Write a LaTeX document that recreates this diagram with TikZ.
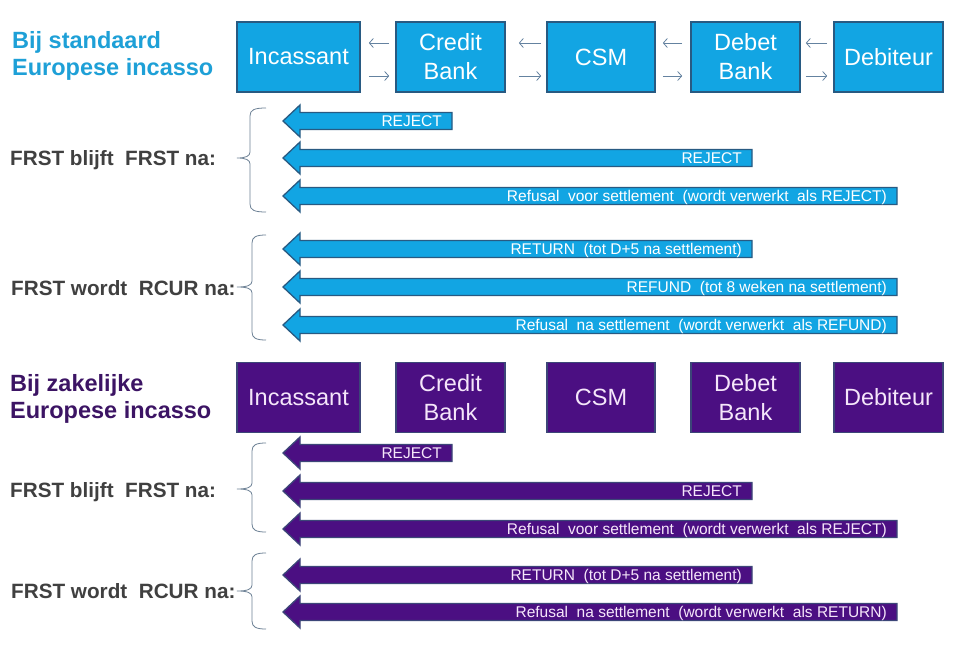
\documentclass[tikz,border=0pt]{standalone}
\usepackage{fontspec}
\setmainfont{Liberation Sans}
\usetikzlibrary{arrows.meta}
\definecolor{bfill}{RGB}{18,165,227}
\definecolor{bline}{RGB}{40,90,130}
\definecolor{pfill}{RGB}{75,15,130}
\definecolor{pline}{RGB}{60,70,120}
\definecolor{tblue}{RGB}{30,160,215}
\definecolor{tpurple}{RGB}{60,20,100}
\definecolor{lgrey}{RGB}{64,64,64}
\definecolor{brcol}{RGB}{110,130,150}
\definecolor{sacol}{RGB}{100,130,160}
\definecolor{ptext}{RGB}{245,230,250}
\tikzset{
  boxb/.style={draw=bline,line width=1.6pt,fill=bfill,text=white,minimum height=70pt,align=center,inner sep=0pt,font=\fontsize{23.5}{29}\selectfont},
  boxp/.style={draw=pline,line width=1.6pt,fill=pfill,text=ptext,minimum height=70pt,align=center,inner sep=0pt,font=\fontsize{23.5}{29}\selectfont},
  arrb/.style={draw=bline,line width=1.3pt,fill=bfill},
  arrp/.style={draw=pline,line width=1.3pt,fill=pfill},
  arrtextb/.style={text=white,inner sep=0pt,font=\fontsize{15.5}{18}\selectfont},
  arrtextp/.style={text=ptext,inner sep=0pt,font=\fontsize{15.5}{18}\selectfont},
  sarr/.style={draw=sacol,line width=0.8pt,-{Straight Barb[length=4pt,width=9pt]}},
  bracestyle/.style={draw=brcol,line width=0.8pt},
  sidelabel/.style={text=lgrey,inner sep=0pt,anchor=base west,font=\fontsize{20.7}{24}\selectfont\bfseries},
  titleb/.style={text=tblue,inner sep=0pt,anchor=base west,font=\fontsize{23.5}{27}\selectfont\bfseries},
  titlep/.style={text=tpurple,inner sep=0pt,anchor=base west,font=\fontsize{23.5}{27}\selectfont\bfseries},
}
\newcommand\blockarrow[6]{% name, y, xend, shape style, text style, text
  \draw[#4] (283,#2) -- (300,#2-16) -- (300,#2-8.5) -- (#3,#2-8.5) -- (#3,#2+8.5) -- (300,#2+8.5) -- (300,#2+16) -- cycle;
  \node[#5,anchor=base east] (#1) at (#3-10,#2+5.5) {#6};
}
\newcommand\mybrace[4]{% top, tip, bottom, xline
  \draw[bracestyle] (266,#1) .. controls (#4+4,#1) and (#4,#1+2) .. (#4,#1+8) -- (#4,#2-6) .. controls (#4,#2-2) and (#4-4,#2) .. (237,#2) .. controls (#4-4,#2) and (#4,#2+2) .. (#4,#2+6) -- (#4,#3-8) .. controls (#4,#3-2) and (#4+4,#3) .. (266,#3);
}
\newcommand\pairarrows[4]{% left node, right node, gap at left, gap at right
  \draw[sarr,shorten <=#4pt,shorten >=#3pt] ([yshift=14pt]#2.west) -- ([yshift=14pt]#1.east);
  \draw[sarr,shorten <=#3pt,shorten >=#4pt] ([yshift=-19pt]#1.east) -- ([yshift=-19pt]#2.west);
}
\begin{document}
\begin{tikzpicture}[x=1pt,y=-1pt]
\useasboundingbox (0,0) rectangle (960,647);
\fill[white] (0,0) rectangle (960,647);

% ---- standard section ----
\node[titleb] (t1a) at (12,49) {Bij standaard};
\node[titleb] (t1b) at (12,76) {Europese incasso};

\node[boxb,minimum width=123pt] (inc) at (298.5,57) {Incassant};
\node[boxb,minimum width=109pt] (cb) at (450.5,57) {Credit\\Bank};
\node[boxb,minimum width=108pt] (csm) at (601,57) {CSM};
\node[boxb,minimum width=109pt] (db) at (745.5,57) {Debet\\Bank};
\node[boxb,minimum width=109pt] (deb) at (888.5,57) {Debiteur};

\pairarrows{inc}{cb}{8}{6}
\pairarrows{cb}{csm}{13}{5}
\pairarrows{csm}{db}{7}{8}
\pairarrows{db}{deb}{5}{6}

\node[sidelabel] (l1) at (10,166) {FRST blijft~ FRST na:};
\node[sidelabel] (l2) at (11,295) {FRST wordt~ RCUR na:};
\mybrace{108}{158}{212}{250}
\mybrace{235}{287}{340}{252}

\blockarrow{a1}{121}{452}{arrb}{arrtextb}{REJECT}
\blockarrow{a2}{158}{752}{arrb}{arrtextb}{REJECT}
\blockarrow{a3}{196}{897}{arrb}{arrtextb}{Refusal~ voor settlement~ (wordt verwerkt~ als REJECT)}
\blockarrow{a4}{249}{752}{arrb}{arrtextb}{RETURN~ (tot D+5 na settlement)}
\blockarrow{a5}{287}{897}{arrb}{arrtextb}{REFUND~ (tot 8 weken na settlement)}
\blockarrow{a6}{325}{897}{arrb}{arrtextb}{Refusal~ na settlement~ (wordt verwerkt~ als REFUND)}

% ---- zakelijke section ----
\node[titlep] (t2a) at (10,391) {Bij zakelijke};
\node[titlep] (t2b) at (10,418) {Europese incasso};

\node[boxp,minimum width=123pt] (pinc) at (298.5,397.5) {Incassant};
\node[boxp,minimum width=109pt] (pcb) at (450.5,397.5) {Credit\\Bank};
\node[boxp,minimum width=108pt] (pcsm) at (601,397.5) {CSM};
\node[boxp,minimum width=109pt] (pdb) at (745.5,397.5) {Debet\\Bank};
\node[boxp,minimum width=109pt] (pdeb) at (888.5,397.5) {Debiteur};

\node[sidelabel] (l3) at (10,497) {FRST blijft~ FRST na:};
\node[sidelabel] (l4) at (11,598.5) {FRST wordt~ RCUR na:};
\mybrace{443}{489}{532}{252}
\mybrace{553}{591}{629}{252}

\blockarrow{b1}{453}{452}{arrp}{arrtextp}{REJECT}
\blockarrow{b2}{491}{752}{arrp}{arrtextp}{REJECT}
\blockarrow{b3}{529}{897}{arrp}{arrtextp}{Refusal~ voor settlement~ (wordt verwerkt~ als REJECT)}
\blockarrow{b4}{575}{752}{arrp}{arrtextp}{RETURN~ (tot D+5 na settlement)}
\blockarrow{b5}{612}{897}{arrp}{arrtextp}{Refusal~ na settlement~ (wordt verwerkt~ als RETURN)}
\end{tikzpicture}
\end{document}
